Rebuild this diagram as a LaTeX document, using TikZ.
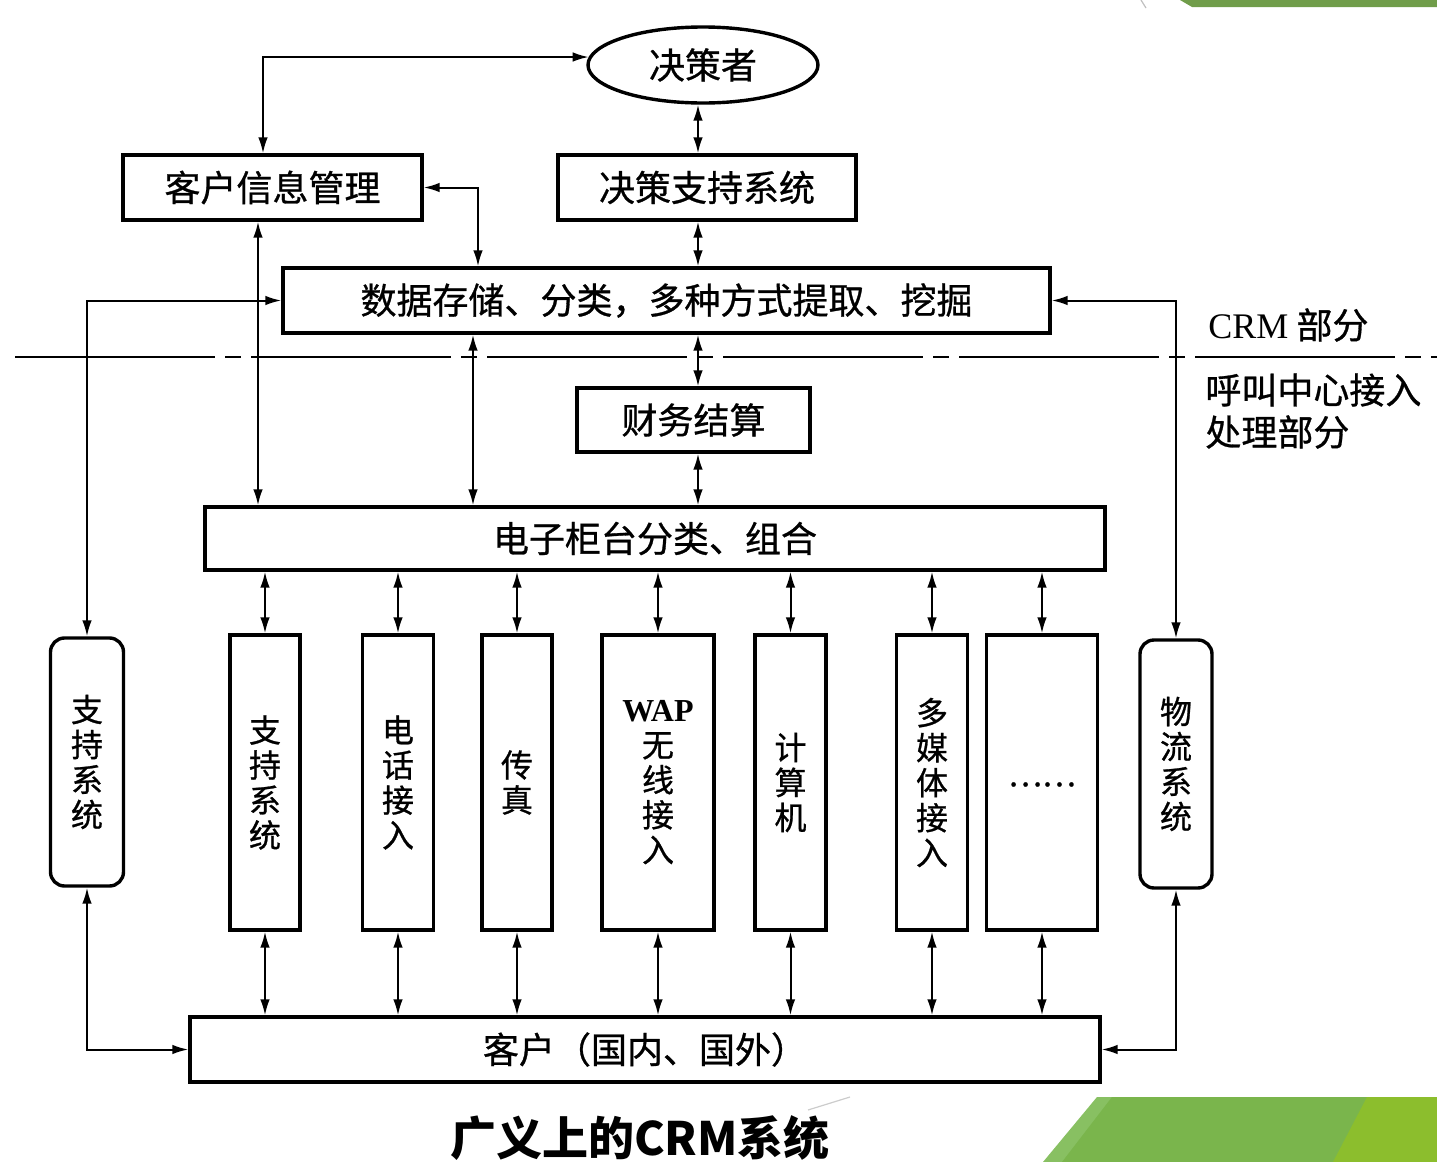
\documentclass[tikz,border=0pt]{standalone}
\usepackage{fontspec}
\setmainfont{Noto Sans CJK SC}[FakeBold=0.8]
\newfontfamily\latinserif{Liberation Serif}
\newfontfamily\capfont{Noto Sans CJK SC}
\usetikzlibrary{arrows.meta,shapes.geometric}
\definecolor{gA}{RGB}{112,157,74}
\definecolor{gB}{RGB}{122,181,76}
\definecolor{gC}{RGB}{140,190,45}
\definecolor{gD}{RGB}{136,192,98}
\begin{document}
\begin{tikzpicture}[x=0.5pt,y=-0.5pt,
  >={Latex[length=8pt,width=4.8pt]},
  box/.style={draw,line width=1.7pt,fill=white,inner sep=0pt,font=\fontsize{18}{20}\selectfont},
  vbox/.style={box,align=center,font=\fontsize{16}{17.5}\selectfont},
  rbox/.style={vbox,rounded corners=7pt},
  conn/.style={line width=1pt},
  sepline/.style={line width=1.1pt,dash pattern=on 100pt off 5pt on 8pt off 5pt},
  sz/.style 2 args={minimum width=#1*0.5pt,minimum height=#2*0.5pt},
  lbl/.style={inner sep=0pt,font=\fontsize{18}{20}\selectfont},
]
\useasboundingbox (0,0) rectangle (1437,1162);
% decorative green shapes
\fill[gA] (1180,0) -- (1437,0) -- (1437,7) -- (1192,7) -- cycle;
\draw[gray!50,line width=0.6pt] (1141,0) -- (1146,8);
\fill[gD] (1097,1097) -- (1437,1097) -- (1437,1162) -- (1043,1162) -- cycle;
\fill[gB] (1112,1097) -- (1437,1097) -- (1437,1162) -- (1062,1162) -- cycle;
\fill[gC] (1367,1097) -- (1437,1097) -- (1437,1162) -- (1333,1162) -- cycle;
\draw[gray!40,line width=0.6pt] (808,1110) -- (850,1097);

% columns
\coordinate (xK) at (263,0);
\coordinate (xL) at (258,0);
\coordinate (xR) at (478,0);
\coordinate (xD) at (473,0);
\coordinate (xM) at (698,0);

% separator line
\draw[sepline] (15,357) -- (1437,357);

% nodes
\node[box,ellipse,sz={230}{76}] (jcz) at (703,65) {决策者};
\node[box,sz={299}{65}] (kh) at (272.5,187.5) {客户信息管理};
\node[box,sz={298}{65}] (jczc) at (707,187.5) {决策支持系统};
\node[box,sz={767}{65}] (sj) at (666.5,300.5) {数据存储、分类，多种方式提取、挖掘};
\node[box,sz={233}{64}] (cw) at (693.5,420) {财务结算};
\node[box,sz={900}{63}] (dz) at (655,538.5) {电子柜台分类、组合};
\node[box,sz={910}{65}] (kehu) at (645,1049.5) {客户（国内、国外）};

\node[rbox,sz={73}{248}] (zc1) at (87,762) {支\\持\\系\\统};
\node[vbox,sz={70}{295}] (zc2) at (265,782.5) {支\\持\\系\\统};
\node[vbox,sz={71}{295}] (dh) at (398,782.5) {电\\话\\接\\入};
\node[vbox,sz={70}{295}] (cz) at (517,782.5) {传\\真};
\node[vbox,sz={112}{295}] (wap) at (658,782.5) {{\latinserif\bfseries WAP}\\无\\线\\接\\入};
\node[vbox,sz={71}{295}] (jsj) at (790.5,782.5) {计\\算\\机};
\node[vbox,sz={71}{295}] (dmt) at (932,782.5) {多\\媒\\体\\接\\入};
\node[vbox,sz={111}{295}] (dots) at (1042,782.5) {\raisebox{-4pt}{……}};
\node[rbox,sz={72}{248}] (wl) at (1176,764) {物\\流\\系\\统};

% labels
\node[lbl,anchor=west] (crm) at (1208,325) {{\latinserif CRM} 部分};
\node[lbl,anchor=west] (hj1) at (1205,390) {呼叫中心接入};
\node[lbl,anchor=west] (hj2) at (1205,432) {处理部分};
\node[inner sep=0pt,font=\capfont\fontsize{23}{25}\selectfont\bfseries] (cap) at (640,1138) {广义上的CRM系统};

% connectors
\draw[conn,<->] (kh.north -| xK) |- (jcz.176);
\draw[conn,<->] (jcz.south -| xM) -- (jczc.north -| xM);
\draw[conn,<->] (jczc.south -| xM) -- (sj.north -| xM);
\draw[conn,<->] (kh.east) -| (sj.north -| xR);
\draw[conn,<->] (kh.south -| xL) -- (dz.north -| xL);
\draw[conn,<->] (sj.west) -| (zc1.north);
\draw[conn,<->] (sj.south -| xD) -- (dz.north -| xD);
\draw[conn,<->] (sj.south -| xM) -- (cw.north -| xM);
\draw[conn,<->] (cw.south -| xM) -- (dz.north -| xM);
\draw[conn,<->] (sj.east) -| (wl.north);
\foreach \b in {zc2,dh,cz,wap,jsj,dmt,dots}{
  \draw[conn,<->] (dz.south -| \b.north) -- (\b.north);
  \draw[conn,<->] (\b.south) -- (kehu.north -| \b.south);
}
\draw[conn,<->] (zc1.south) |- (kehu.west);
\draw[conn,<->] (wl.south) |- (kehu.east);
\end{tikzpicture}
\end{document}
